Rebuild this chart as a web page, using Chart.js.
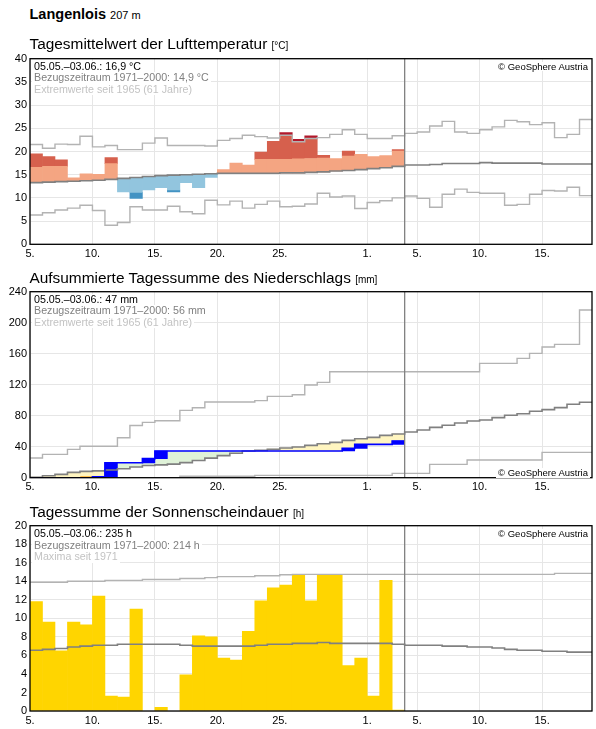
<!DOCTYPE html>
<html><head><meta charset="utf-8">
<script src="https://cdn.jsdelivr.net/npm/chart.js@4.4.1/dist/chart.umd.min.js"></script>
<style>
html,body{margin:0;padding:0;background:#fff;}
#wrap{position:relative;width:596px;height:729px;overflow:hidden;font-family:"Liberation Sans",Arial,sans-serif;color:#000;}
canvas{position:absolute;left:0;}
.t{position:absolute;white-space:nowrap;line-height:1;z-index:4;}
.leg{position:absolute;left:32px;font-size:10.7px;line-height:11.5px;z-index:5;white-space:nowrap;}
.leg span{display:block;width:fit-content;background:#fff;padding:0 2px;}
.l1{color:#000;} .l2{color:#808080;} .l3{color:#c3c3c3;}
.cr{position:absolute;right:6px;font-size:9.5px;line-height:1;background:#fff;padding:0 2px;z-index:5;white-space:nowrap;}
</style></head>
<body>
<div id="wrap">
  <canvas id="cTemp" width="596" height="215" style="top:48px"></canvas>
  <canvas id="cPrec" width="596" height="215" style="top:282px"></canvas>
  <canvas id="cSun" width="596" height="213" style="top:516px"></canvas>

  <div class="t" style="left:29.5px;top:6.7px;font-size:14.5px;font-weight:bold">Langenlois <span style="font-size:11px;font-weight:normal">207 m</span></div>

  <div class="t" style="left:29.5px;top:36.4px;font-size:15.4px">Tagesmittelwert der Lufttemperatur <span style="font-size:10px">[°C]</span></div>
  <div class="leg" style="top:60.5px"><span class="l1">05.05.–03.06.: 16,9 °C</span><span class="l2">Bezugszeitraum 1971–2000: 14,9 °C</span><span class="l3">Extremwerte seit 1965 (61 Jahre)</span></div>
  <div class="cr" style="top:61.5px">© GeoSphere Austria</div>

  <div class="t" style="left:29.5px;top:269.7px;font-size:15.4px">Aufsummierte Tagessumme des Niederschlags <span style="font-size:10px">[mm]</span></div>
  <div class="leg" style="top:293.8px"><span class="l1">05.05.–03.06.: 47 mm</span><span class="l2">Bezugszeitraum 1971–2000: 56 mm</span><span class="l3">Extremwerte seit 1965 (61 Jahre)</span></div>
  <div class="cr" style="top:468px">© GeoSphere Austria</div>

  <div class="t" style="left:29.5px;top:504px;font-size:15.4px">Tagessumme der Sonnenscheindauer <span style="font-size:10px">[h]</span></div>
  <div class="leg" style="top:528.2px"><span class="l1">05.05.–03.06.: 235 h</span><span class="l2">Bezugszeitraum 1971–2000: 214 h</span><span class="l3">Maxima seit 1971</span></div>
  <div class="cr" style="top:529px">© GeoSphere Austria</div>
</div>
<script>
// ---- axis (days since 5 May; day i spans [i, i+1]) ----
const totalDays = 45;
const observedDays = 30;
const xTickDays = [0, 5, 10, 15, 20, 27, 31, 36, 41];
const xTickLabels = ['5.', '10.', '15.', '20.', '25.', '1.', '5.', '10.', '15.'];

// ---- temperature [°C] ----
const tempActual = [19.5,18.9,18.2,14.3,15.2,15.1,18.7,11.3,9.9,11.7,12.2,11.3,13.3,12.2,14.4,16.1,17.5,17.1,19.9,22.2,24.1,22.6,23.4,19.2,18.5,20.1,19.4,18.9,19.1,20.4];
const tempWarmLimit = [16.6,16.8,16.8,null,null,null,17.4,null,null,null,null,null,null,null,null,null,null,null,18.3,18.3,18.3,18.4,18.5,18.6,null,19.0,null,null,null,20.1];
const tempColdLimit = [null,null,null,null,null,null,null,null,11.2,null,null,11.7,null,null,null,null,null,null,null,null,null,null,null,null,null,null,null,null,null,null];
const tempMean = [13.3,13.4,13.5,13.6,13.7,13.8,14.0,14.2,14.4,14.6,14.8,14.9,15.0,15.1,15.2,15.3,15.3,15.3,15.3,15.3,15.4,15.4,15.5,15.6,15.8,15.9,16.1,16.3,16.5,16.8,17.1,17.1,17.2,17.4,17.4,17.4,17.6,17.5,17.5,17.5,17.5,17.3,17.3,17.3,17.3];
const tempMax = [21.5,20.7,21.6,21.5,23.3,21.0,21.3,20.4,20.4,21.8,22.9,21.3,21.3,21.3,21.2,22.4,22.8,23.5,23.2,22.9,23.5,22.1,22.8,23.0,23.7,24.7,23.7,22.8,22.8,23.4,23.9,24.2,25.5,26.5,24.2,23.9,24.7,25.3,26.7,26.4,25.8,26.2,23.0,23.7,26.9];
const tempMin = [6.3,6.8,7.4,7.8,8.4,7.3,4.1,4.7,8.1,7.4,7.4,8.2,7.0,6.6,9.5,8.5,9.3,7.8,8.6,9.3,8.1,8.2,8.7,11.0,10.2,10.4,7.7,9.0,9.4,10.0,10.4,9.9,8.0,10.8,11.9,11.2,11.0,11.0,8.4,8.6,10.8,11.6,11.5,12.3,10.5];

// ---- precipitation, cumulative [mm] ----
const precipCum = [0,0,0,0,0,1.2,19.2,19.2,19.2,24.6,34.4,34.4,34.4,34.4,34.4,34.4,34.4,34.4,34.4,34.4,34.4,34.4,34.4,34.4,34.4,37.8,43.0,43.0,43.0,47.3];
const precipDryLimit = [null,1.0,1.0,1.0,2.6,null,null,null,null,null,null,null,null,null,null,null,null,null,null,null,null,null,null,null,null,null,null,null,null,null];
const precipMean = [0.6,2.6,4.3,6.9,8.2,8.8,10.0,11.5,13.8,15.8,16.5,17.5,19.5,22.2,25.2,28.5,31.5,34.4,35.3,36.8,38.3,39.6,41.7,43.9,45.6,48.2,50.3,52.0,54.6,56.3,58.9,61.5,65.0,67.6,70.6,73.2,74.4,77.5,80.5,82.6,85.7,87.8,90.4,94.7,97.3];
const precipMax = [25.4,30.1,30.1,36.6,40.5,40.5,40.5,51.5,67.3,71.4,73.5,73.5,86.9,90.3,97.6,97.6,97.6,97.6,99.4,104.9,104.9,107.0,119.6,123.0,136.8,136.8,136.8,136.8,136.8,136.8,136.8,136.8,136.8,136.8,136.8,136.8,147.5,147.5,147.5,154.0,160.4,168.6,172.0,172.0,216.4];
const precipMin = [0,0,0,0,0,0,0,0,0,0,0,0,1.8,1.8,1.8,1.8,1.8,1.8,3.0,3.0,3.0,3.0,3.0,3.0,3.0,3.0,3.0,3.0,3.0,5.6,5.6,5.6,17.2,17.2,17.2,22.8,22.8,22.8,22.8,22.8,22.8,32.7,32.7,32.7,32.7];

// ---- sunshine [h] ----
const sunActual = [11.8,9.6,6.5,9.6,9.3,12.4,1.6,1.5,11.0,0,0.4,0,3.9,8.1,8.0,5.7,5.5,8.6,11.9,13.3,13.6,14.75,11.9,14.75,14.75,4.9,5.7,1.6,14.1,0.1];
const sunMean = [6.55,6.65,6.75,6.9,7.0,7.1,7.1,7.2,7.2,7.2,7.2,7.2,7.1,7.0,7.0,7.0,7.0,7.0,7.1,7.2,7.2,7.3,7.3,7.4,7.3,7.3,7.3,7.3,7.3,7.2,7.1,7.1,7.1,7.0,7.0,6.9,6.9,6.8,6.65,6.55,6.55,6.45,6.45,6.35,6.35];
const sunMax = [13.9,13.9,13.9,14.0,14.0,14.0,14.1,14.1,14.1,14.2,14.2,14.2,14.3,14.3,14.4,14.5,14.5,14.5,14.6,14.6,14.7,14.75,14.75,14.75,14.75,14.75,14.75,14.75,14.75,14.75,14.75,14.75,14.75,14.75,14.75,14.75,14.75,14.75,14.75,14.75,14.75,14.75,14.85,14.85,14.85];

// ---- colours ----
const C = {
  grid:'#e6e6e6', extreme:'#b3b3b3', mean:'#808080', today:'#808080',
  warm:'#f4a582', hot:'#d6604d', record:'#b2182b', cool:'#92c5de', cold:'#4393c3',
  wet:'#dff2d8', dry:'#fff5c0', veryDry:'#ffc04c', rain:'#0000ff', sun:'#ffd500'
};
const FONT = '"Liberation Sans", Arial, sans-serif';

function stepData(arr){
  const pts = arr.map((v,i)=>({x:i, y:v}));
  pts.push({x:arr.length, y:arr[arr.length-1]});
  return pts;
}
function lineDs(arr, color, width, order){
  return {type:'line', data:stepData(arr), borderColor:color, borderWidth:width, stepped:'before',
          pointRadius:0, fill:false, order:order};
}
function barDs(segs, color, order){
  return {type:'bar', data:segs, backgroundColor:color, borderWidth:0, grouped:false,
          barPercentage:1, categoryPercentage:1, order:order};
}

const framePlugin = {
  id:'frame',
  afterDatasetsDraw(chart){
    const {ctx, chartArea:a, scales} = chart;
    ctx.save();
    const xd = scales.x.getPixelForValue(observedDays);
    ctx.strokeStyle = C.today; ctx.lineWidth = 1.3;
    ctx.beginPath(); ctx.moveTo(xd, a.top); ctx.lineTo(xd, a.bottom); ctx.stroke();
    ctx.strokeStyle = '#000'; ctx.lineWidth = 1.3;
    ctx.strokeRect(a.left, a.top, a.right - a.left, a.bottom - a.top);
    ctx.restore();
  }
};

function makeChart(id, datasets, yMax, yStep, padTop, xHeight){
  return new Chart(document.getElementById(id), {
    type:'bar',
    data:{datasets},
    options:{
      responsive:false, animation:false,
      layout:{padding:{top:padTop, right:4, left:0, bottom:0}},
      plugins:{legend:{display:false}, tooltip:{enabled:false}},
      scales:{
        x:{type:'linear', min:0, max:totalDays, offset:false,
           afterBuildTicks:s=>{ s.ticks = xTickDays.map(v=>({value:v})); },
           afterFit:s=>{ s.height = xHeight; },
           grid:{color:C.grid, lineWidth:1, drawTicks:false, offset:false},
           border:{display:false},
           ticks:{autoSkip:false, maxRotation:0, padding:3, color:'#000',
                  font:{family:FONT, size:11}, callback:(v,i)=>xTickLabels[i]}},
        y:{type:'linear', min:0, max:yMax,
           afterFit:s=>{ s.width = 30; },
           grid:{color:C.grid, lineWidth:1, drawTicks:false},
           border:{display:false},
           ticks:{stepSize:yStep, autoSkip:false, padding:3, color:'#000',
                  font:{family:FONT, size:11}}}
      }
    },
    plugins:[framePlugin]
  });
}

// ---- temperature panel ----
(function(){
  const warm=[], hot=[], rec=[], cool=[], cold=[];
  tempActual.forEach((v,i)=>{
    const m = tempMean[i], mx = tempMax[i], w = tempWarmLimit[i], c = tempColdLimit[i], x = i + 0.5;
    if (v > m){
      const top = (w !== null && v > w) ? w : v;
      warm.push({x, y:[m, top]});
      if (w !== null && v > w) hot.push({x, y:[w, Math.min(v, mx)]});
      if (v > mx) rec.push({x, y:[mx, v]});
    } else if (v < m){
      const bot = (c !== null && v < c) ? c : v;
      cool.push({x, y:[bot, m]});
      if (c !== null && v < c) cold.push({x, y:[v, c]});
    }
  });
  makeChart('cTemp', [
    lineDs(tempMean, C.mean, 1.6, 0),
    lineDs(tempMax, C.extreme, 1.4, 1),
    lineDs(tempMin, C.extreme, 1.4, 1),
    barDs(warm, C.warm, 5), barDs(hot, C.hot, 5), barDs(rec, C.record, 5),
    barDs(cool, C.cool, 5), barDs(cold, C.cold, 5)
  ], 40, 5, 10.7, 18.7);
})();

// ---- precipitation panel ----
(function(){
  const wet=[], dry=[], vdry=[], rain=[];
  precipCum.forEach((v,i)=>{
    const m = precipMean[i], d = precipDryLimit[i], prev = i > 0 ? precipCum[i-1] : 0, x = i + 0.5;
    if (v > m) wet.push({x, y:[m, v]});
    else if (v < m){
      const bot = (d !== null && v < d) ? d : v;
      dry.push({x, y:[bot, m]});
      if (d !== null && v < d) vdry.push({x, y:[v, d]});
    }
    if (v > prev) rain.push({x, y:[prev, v]});
  });
  makeChart('cPrec', [
    lineDs(precipCum, C.rain, 1.6, 0),
    lineDs(precipMean, C.mean, 1.6, 1),
    lineDs(precipMax, C.extreme, 1.4, 2),
    lineDs(precipMin, C.extreme, 1.4, 2),
    barDs(rain, C.rain, 4),
    barDs(wet, C.wet, 6), barDs(dry, C.dry, 6), barDs(vdry, C.veryDry, 6)
  ], 240, 40, 9.7, 19.3);
})();

// ---- sunshine panel ----
(function(){
  const bars = [];
  sunActual.forEach((v,i)=>{ if (v > 0) bars.push({x:i + 0.5, y:v}); });
  makeChart('cSun', [
    lineDs(sunMean, C.mean, 1.6, 0),
    lineDs(sunMax, C.extreme, 1.4, 1),
    barDs(bars, C.sun, 5)
  ], 20, 2, 9.7, 18);
})();
</script>
</body></html>
